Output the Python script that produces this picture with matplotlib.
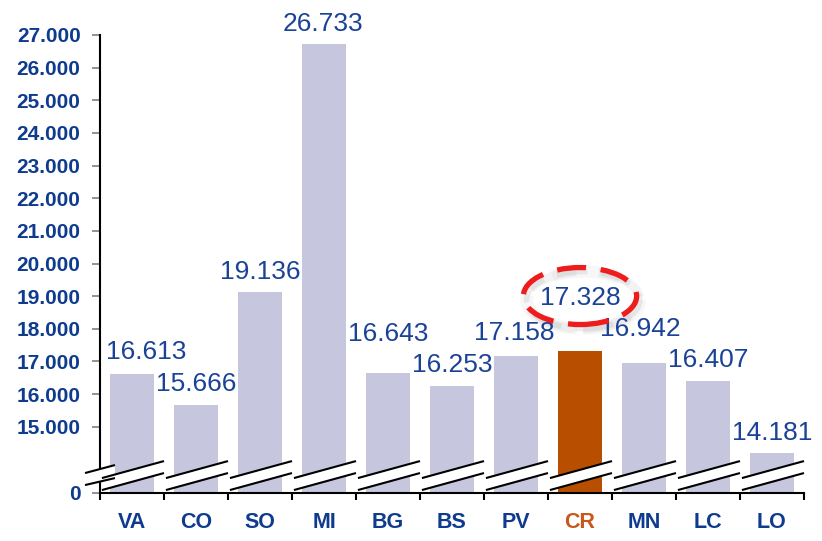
import matplotlib
matplotlib.use("Agg")
import matplotlib.pyplot as plt
from matplotlib.patches import Ellipse, Polygon

# ---- data ----
categories = ["VA", "CO", "SO", "MI", "BG", "BS", "PV", "CR", "MN", "LC", "LO"]
values = [16613, 15666, 19136, 26733, 16643, 16253, 17158, 17328, 16942, 16407, 14181]
value_labels = ["16.613", "15.666", "19.136", "26.733", "16.643", "16.253",
                "17.158", "17.328", "16.942", "16.407", "14.181"]
ytick_values = [15000, 16000, 17000, 18000, 19000, 20000, 21000, 22000,
                23000, 24000, 25000, 26000, 27000]
ytick_labels = ["15.000", "16.000", "17.000", "18.000", "19.000", "20.000",
                "21.000", "22.000", "23.000", "24.000", "25.000", "26.000", "27.000"]
highlight = "CR"

# ---- layout / style ----
AXIS_BASE = 12980          # position on the broken axis where "0" sits
TOP = 27000
BAR_COLOR = "#c6c6df"
HL_COLOR = "#b84f00"
TICK_COLOR = "#0e3b8e"
VAL_COLOR = "#1a4296"
HL_TEXT = "#c8571c"
# label offsets (points) per bar: dx, dy above bar top
label_dx = [10, 0, 0, -1, 0, 0, -1, 0, -3, 0, 0]
label_dy = [11, 10, 9, 9.5, 23, 10, 11.5, 33, 20, 10, 10]

plt.rcParams["font.family"] = ["Liberation Sans", "DejaVu Sans"]

fig = plt.figure(figsize=(8.22, 5.41), dpi=100)
ax = fig.add_axes([100/822, 1-492.7/541, 704/822, (492.7-35)/541])

x = list(range(len(categories)))
colors = [HL_COLOR if c == highlight else BAR_COLOR for c in categories]
heights = [v - AXIS_BASE for v in values]
ax.bar(x, heights, bottom=AXIS_BASE, width=0.69, color=colors, zorder=2)

ax.set_xlim(-0.5, len(categories) - 0.5)
ax.set_ylim(AXIS_BASE, TOP)

# y ticks
ax.set_yticks([AXIS_BASE] + ytick_values)
ax.set_yticklabels(["0"] + ytick_labels)
ax.tick_params(axis="y", length=6, width=1.2, color="#808080", pad=8,
               labelsize=15, labelcolor=TICK_COLOR)
for t in ax.get_yticklabels():
    t.set_fontweight("bold")

# x ticks: labels at centers, tick marks at boundaries
ax.set_xticks(x)
ax.set_xticklabels(categories)
ax.tick_params(axis="x", which="major", length=0, pad=14, labelsize=15.5)
for t, c in zip(ax.get_xticklabels(), categories):
    t.set_fontweight("bold")
    t.set_color(HL_TEXT if c == highlight else TICK_COLOR)
ax.set_xticks([i - 0.5 for i in range(len(categories) + 1)], minor=True)
ax.tick_params(axis="x", which="minor", length=5, width=1.5, color="black")

for s in ["top", "right"]:
    ax.spines[s].set_visible(False)
for s in ["left", "bottom"]:
    ax.spines[s].set_linewidth(1.5)
    ax.spines[s].set_color("black")

# value labels
for i, (v, lab) in enumerate(zip(values, value_labels)):
    ax.annotate(lab, (i, v), xytext=(label_dx[i], label_dy[i]),
                textcoords="offset points", ha="center", va="baseline",
                fontsize=19, color=VAL_COLOR, zorder=6)

# axis break marks
def break_pair(xl, xr, yul, yur, yll, ylr, clip=True):
    poly = Polygon([(xl, yul), (xr, yur), (xr, ylr), (xl, yll)], closed=True,
                   facecolor="white", edgecolor="none", zorder=4, clip_on=clip)
    ax.add_patch(poly)
    ax.plot([xl, xr], [yul, yur], color="black", lw=1.5, zorder=5, clip_on=clip,
            solid_capstyle="butt")
    ax.plot([xl, xr], [yll, ylr], color="black", lw=1.5, zorder=5, clip_on=clip,
            solid_capstyle="butt")

for i in x:
    break_pair(i - 0.47, i + 0.5, 13428, 13949, 13061, 13582, clip=False)

# break on the y axis
break_pair(-0.734, -0.266, 13582, 13827, 13214, 13428, clip=False)

# highlight ellipse around CR label (with soft shadow)
ci = categories.index(highlight)
for k, a in enumerate([0.14, 0.09, 0.06]):
    sh = Ellipse((ci + 0.05, 18880), 1.77, 1746, fill=False,
                 edgecolor="gray", lw=4 + 2.5*k, alpha=a, linestyle=(0, (5.5, 2.5)),
                 zorder=5)
    ax.add_patch(sh)
ell = Ellipse((ci, 19004), 1.77, 1746, fill=False, edgecolor="#ee1c1c",
              lw=3.8, linestyle=(0, (5.5, 2.8)), zorder=6)
ax.add_patch(ell)

fig.savefig("out.png", dpi=100)
